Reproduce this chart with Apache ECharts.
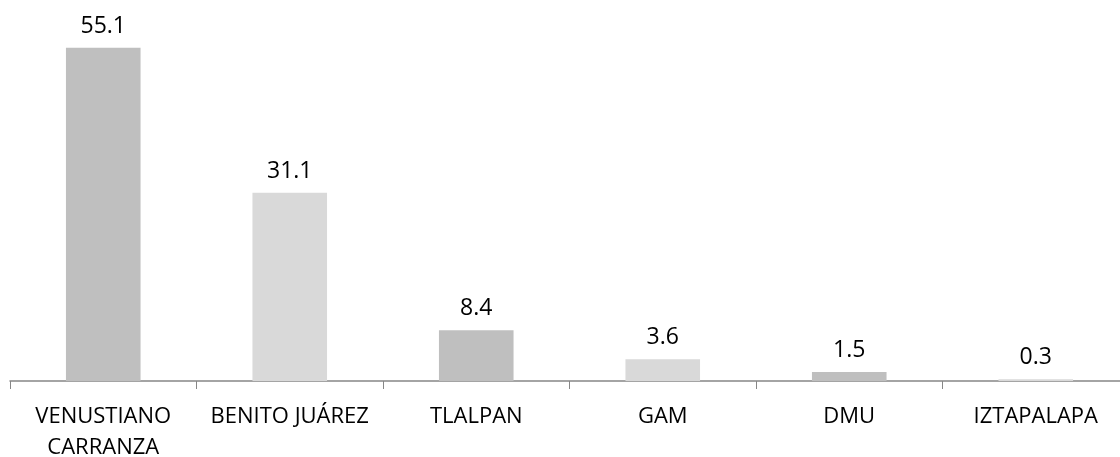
<!DOCTYPE html>
<html><head><meta charset="utf-8">
<script src="https://cdn.jsdelivr.net/npm/echarts@6/dist/echarts.min.js"></script>
<style>html,body{margin:0;padding:0;background:#fff}#c{width:1120px;height:457px}</style>
</head><body><div id="c"></div>
<script>
const categories = ['VENUSTIANO\nCARRANZA', 'BENITO JUÁREZ', 'TLALPAN', 'GAM', 'DMU', 'IZTAPALAPA'];
const values = [55.1, 31.1, 8.4, 3.6, 1.5, 0.3];
const barColors = ['#bfbfbf', '#d9d9d9'];

const chart = echarts.init(document.getElementById('c'));
chart.setOption({
  animation: false,
  grid: { left: 10, width: 1119, top: 18, height: 363, containLabel: false, outerBoundsMode: 'none' },
  xAxis: {
    type: 'category', data: categories,
    axisLine: { lineStyle: { color: '#868686', width: 1.5 } },
    axisTick: { show: true, length: 8, lineStyle: { color: '#868686' } },
    axisLabel: { color: '#000', fontSize: 22, fontFamily: 'Open Sans', margin: 20, lineHeight: 31, interval: 0 }
  },
  yAxis: { type: 'value', min: 0, max: 60, show: false, splitLine: { show: false } },
  series: [{
    type: 'bar', data: values, barWidth: '40%',
    itemStyle: { color: p => barColors[p.dataIndex % 2] },
    label: { show: true, position: 'top', distance: 10, color: '#000', fontSize: 23, fontFamily: 'Open Sans',
      formatter: p => p.value.toFixed(1) }
  }]
});
</script></body></html>
